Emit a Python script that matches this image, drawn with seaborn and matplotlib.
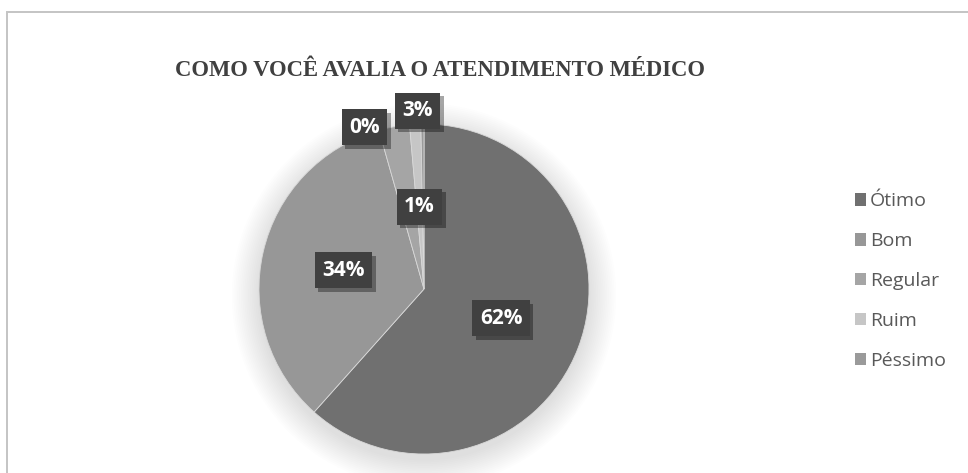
import matplotlib
matplotlib.use("Agg")
import matplotlib.pyplot as plt
import matplotlib.patheffects as pe
from matplotlib.patches import Rectangle, Circle
import numpy as np
import seaborn as sns

categorias = ["Ótimo", "Bom", "Regular", "Ruim", "Péssimo"]
valores = [61.6, 34.0, 3.0, 1.1, 0.3]
rotulos = ["62%", "34%", "3%", "1%", "0%"]
titulo = "COMO VOCÊ AVALIA O ATENDIMENTO MÉDICO"

cores = ["#707070", "#979797", "#a5a5a5", "#c6c6c6", "#9a9a9a"]

sns.set_theme(style="white")
plt.rcParams["font.family"] = ["Open Sans", "DejaVu Sans"]

W, H = 968, 473
fig = plt.figure(figsize=(W / 100, H / 100), dpi=100)
fig.patch.set_facecolor("white")

# moldura do gráfico (só esquerda e topo aparecem)
fig.patches.append(Rectangle((7 / W, -0.2), 2, (H - 12) / H + 0.2,
                             transform=fig.transFigure, fill=False,
                             ec="#c4c4c4", lw=1.4))

cx, cy, r = 424, 289, 165
ax = fig.add_axes([(cx - r) / W, (H - cy - r) / H, 2 * r / W, 2 * r / H])

# sombra suave
for k in range(16):
    ax.add_patch(Circle((0.0, -0.04), 1.0 + 0.011 * k, color="#000000",
                        alpha=0.009, lw=0, zorder=0, clip_on=False))

wedges, _ = ax.pie(valores, colors=cores, startangle=90, counterclock=False,
                   radius=1.0, wedgeprops=dict(edgecolor="#d8d8d8", linewidth=0.6))
for w in wedges:
    w.set_zorder(2)
ax.set_xlim(-1, 1)
ax.set_ylim(-1, 1)
ax.set_aspect("equal")
ax.axis("off")

# posições dos rótulos (em unidades do raio); None = meio da fatia, r=0.5
ajuste = [None, None, (-0.04, 1.08), None, (-0.36, 0.98)]
for w, txt, aj in zip(wedges, rotulos, ajuste):
    if aj is None:
        ang = np.deg2rad((w.theta1 + w.theta2) / 2)
        pos = (0.5 * np.cos(ang), 0.5 * np.sin(ang))
    else:
        pos = aj
    t = ax.text(pos[0], pos[1], txt, ha="center", va="center", color="white",
                fontsize=15, fontweight="bold", zorder=5, clip_on=False,
                bbox=dict(boxstyle="square,pad=0.36", fc="#404040", ec="none"))
    t.get_bbox_patch().set_path_effects([
        pe.SimplePatchShadow(offset=(2.5, -2.5), shadow_rgbFace="#000000", alpha=0.35),
        pe.Normal()])

fig.text(440 / W, 1 - 70 / H, titulo, ha="center", va="center",
         family=["Liberation Serif", "DejaVu Serif"], fontweight="bold",
         fontsize=16.3, color="#404040")

handles = [Rectangle((0, 0), 1, 1, fc=c, ec="none") for c in cores]
leg = fig.legend(handles, categorias, loc="center left",
                 bbox_to_anchor=(837 / W, 1 - 281 / H), frameon=False,
                 fontsize=14, handlelength=0.6, handleheight=0.6,
                 handletextpad=0.2, labelspacing=1.12, labelcolor="#595959")

fig.savefig("out.png", dpi=100, facecolor="white")
